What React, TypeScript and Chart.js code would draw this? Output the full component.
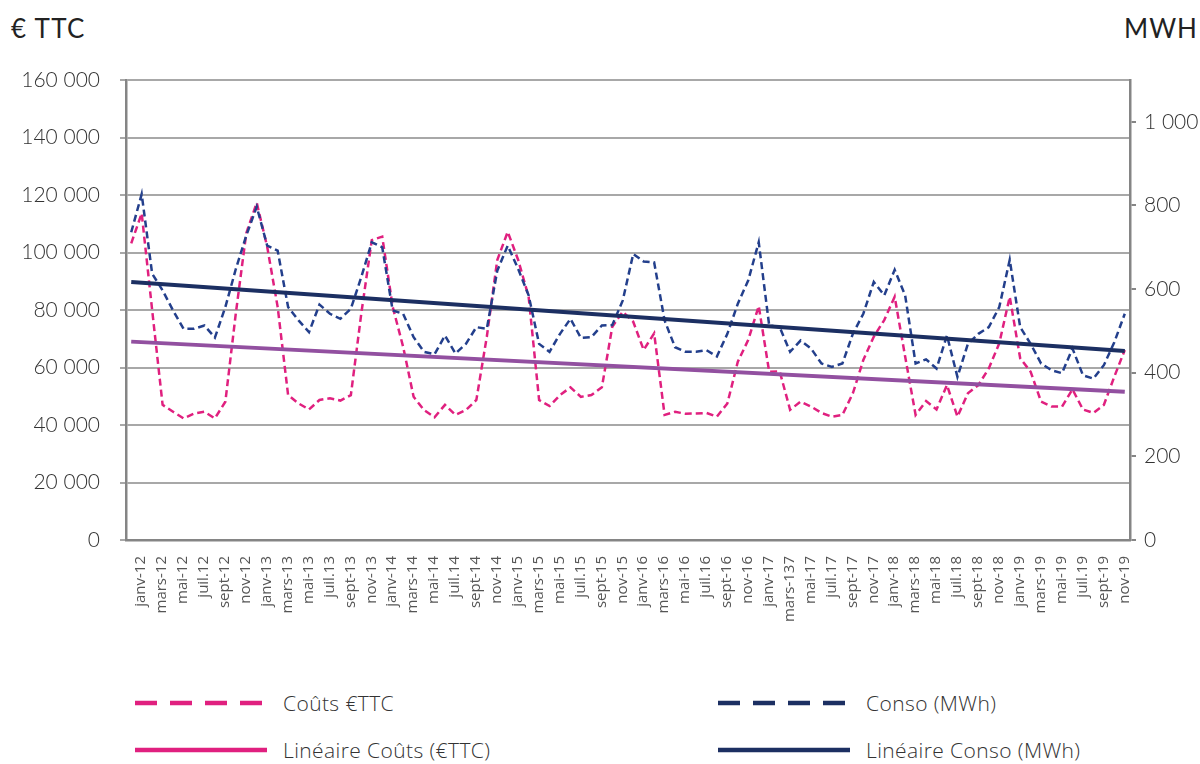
import React, { useEffect, useRef } from 'react';
import { Chart, registerables } from 'chart.js';

Chart.register(...registerables);

const categories: string[] = [
  'janv-12', 'févr-12', 'mars-12', 'avr-12', 'mai-12', 'juin-12', 'juil.12', 'août-12', 'sept-12', 'oct-12', 'nov-12', 'déc-12',
  'janv-13', 'févr-13', 'mars-13', 'avr-13', 'mai-13', 'juin-13', 'juil.13', 'août-13', 'sept-13', 'oct-13', 'nov-13', 'déc-13',
  'janv-14', 'févr-14', 'mars-14', 'avr-14', 'mai-14', 'juin-14', 'juil.14', 'août-14', 'sept-14', 'oct-14', 'nov-14', 'déc-14',
  'janv-15', 'févr-15', 'mars-15', 'avr-15', 'mai-15', 'juin-15', 'juil.15', 'août-15', 'sept-15', 'oct-15', 'nov-15', 'déc-15',
  'janv-16', 'févr-16', 'mars-16', 'avr-16', 'mai-16', 'juin-16', 'juil.16', 'août-16', 'sept-16', 'oct-16', 'nov-16', 'déc-16',
  'janv-17', 'févr-17', 'mars-137', 'avr-17', 'mai-17', 'juin-17', 'juil.17', 'août-17', 'sept-17', 'oct-17', 'nov-17', 'déc-17',
  'janv-18', 'févr-18', 'mars-18', 'avr-18', 'mai-18', 'juin-18', 'juil.18', 'août-18', 'sept-18', 'oct-18', 'nov-18', 'déc-18',
  'janv-19', 'févr-19', 'mars-19', 'avr-19', 'mai-19', 'juin-19', 'juil.19', 'août-19', 'sept-19', 'oct-19', 'nov-19', 'déc-19',
];

// Coûts €TTC (left axis)
const coutsTTC: number[] = [
  103200, 113600, 80000, 47000, 44600, 42300, 44000, 44600, 42300, 48100, 78800, 106700,
  117300, 102000, 81100, 50400, 47500, 45400, 48700, 49300, 48500, 50400, 78800, 104300,
  105500, 81100, 67200, 49800, 45200, 42700, 47000, 43500, 45200, 48700, 70700, 97400,
  107200, 97400, 84600, 48700, 46600, 50400, 53100, 49800, 50400, 53100, 74200, 79400,
  75900, 66100, 71900, 43500, 44600, 43900, 44000, 44200, 42900, 47500, 62000, 69600,
  81400, 58500, 58700, 45300, 48100, 46400, 44200, 42900, 43500, 51000, 62600, 70700,
  76500, 84600, 63800, 43500, 48300, 45400, 53900, 42900, 51000, 53900, 59700, 68400,
  84600, 63200, 58500, 48100, 46400, 46400, 52400, 45400, 44200, 47000, 56800, 66100,
];

// Conso (MWh) (right axis)
const consoMWh: number[] = [
  736, 827, 637, 597, 549, 505, 505, 513, 484, 557, 648, 728,
  797, 704, 692, 557, 525, 497, 563, 541, 529, 553, 629, 712,
  700, 549, 541, 485, 450, 444, 489, 446, 469, 509, 505, 644,
  704, 648, 585, 469, 450, 493, 529, 483, 485, 513, 514, 573,
  684, 666, 664, 525, 461, 450, 450, 454, 439, 493, 565, 621,
  712, 513, 509, 450, 477, 458, 422, 414, 422, 493, 541, 617,
  585, 646, 585, 422, 432, 410, 489, 390, 469, 493, 509, 557,
  670, 509, 469, 422, 406, 399, 458, 394, 386, 418, 473, 541,
];

// Trend lines: values read at first and last month
const lineaireCoutsEnds: number[] = [69000, 51600];
const lineaireConsoEnds: number[] = [617, 452];

const leftTicks: number[] = [0, 20000, 40000, 60000, 80000, 100000, 120000, 140000, 160000];
const rightTicks: number[] = [0, 200, 400, 600, 800, 1000];

const PINK = '#E0207F';
const BLUE = '#233F8C';
const NAVY = '#1C2F62';
const PURPLE = '#9250A0';

const fmt = (v: number) => String(v).replace(/\B(?=(\d{3})+(?!\d))/g, ' ');

const endsToSeries = (ends: number[]) =>
  categories.map((_, i) => (i === 0 ? ends[0] : i === categories.length - 1 ? ends[1] : null));

function LegendItem({ color, dashed, label, left, top }: { color: string; dashed: boolean; label: string; left: number; top: number }) {
  return (
    <div style={{ position: 'absolute', left, top, height: 24, display: 'flex', alignItems: 'center' }}>
      <svg width={132} height={8} style={{ display: 'block' }}>
        <line x1={0} y1={4} x2={132} y2={4} stroke={color} strokeWidth={4.5} strokeDasharray={dashed ? '22 13' : undefined} />
      </svg>
      <span style={{ marginLeft: 16, fontFamily: '"Open Sans", sans-serif', fontWeight: 300, fontSize: 21, letterSpacing: 0.4, color: '#333', whiteSpace: 'nowrap' }}>{label}</span>
    </div>
  );
}

export default function App() {
  const ref = useRef<HTMLCanvasElement | null>(null);

  useEffect(() => {
    if (!ref.current) return;
    const chart = new Chart(ref.current, {
      type: 'line',
      data: {
        labels: categories,
        datasets: [
          {
            label: 'Linéaire Conso (MWh)',
            data: endsToSeries(lineaireConsoEnds),
            yAxisID: 'y1',
            borderColor: NAVY,
            borderWidth: 4,
            pointRadius: 0,
            spanGaps: true,
            order: 1,
          },
          {
            label: 'Linéaire Coûts (€TTC)',
            data: endsToSeries(lineaireCoutsEnds),
            yAxisID: 'y',
            borderColor: PURPLE,
            borderWidth: 4,
            pointRadius: 0,
            spanGaps: true,
            order: 2,
          },
          {
            label: 'Conso (MWh)',
            data: consoMWh,
            yAxisID: 'y1',
            borderColor: BLUE,
            borderWidth: 2.5,
            borderDash: [7, 4],
            pointRadius: 0,
            tension: 0,
            order: 3,
          },
          {
            label: 'Coûts €TTC',
            data: coutsTTC,
            yAxisID: 'y',
            borderColor: PINK,
            borderWidth: 2.5,
            borderDash: [7, 4],
            pointRadius: 0,
            tension: 0,
            order: 4,
          },
        ],
      },
      options: {
        responsive: false,
        animation: false,
        layout: { padding: { top: 80, left: 0, right: 0, bottom: 0 } },
        plugins: { legend: { display: false }, tooltip: { enabled: false } },
        scales: {
          x: {
            type: 'category',
            offset: true,
            grid: { display: false, drawTicks: false },
            border: { display: true, color: '#858585', width: 2.5 },
            ticks: {
              autoSkip: false,
              minRotation: 90,
              maxRotation: 90,
              padding: 16,
              labelOffset: 10,
              color: '#555',
              font: { family: '"Open Sans", sans-serif', size: 15, weight: 400 },
              callback: (_v: any, idx: number) => (idx % 2 === 0 ? categories[idx] : ''),
            },
            afterFit: (s: any) => {
              s.height = 100;
            },
          },
          y: {
            position: 'left',
            min: leftTicks[0],
            max: leftTicks[leftTicks.length - 1],
            afterBuildTicks: (s: any) => {
              s.ticks = leftTicks.map((v) => ({ value: v }));
            },
            ticks: {
              padding: 20,
              color: '#333',
              font: { family: 'Lato, sans-serif', size: 21, weight: 300 },
              callback: (v: any) => fmt(Number(v)),
            },
            grid: { color: '#a8a8a8', lineWidth: 2, tickLength: 6, drawTicks: true },
            border: { color: '#858585', width: 2.5 },
            afterFit: (s: any) => {
              s.width = 126;
            },
          },
          y1: {
            position: 'right',
            min: 0,
            max: 1100,
            afterBuildTicks: (s: any) => {
              s.ticks = rightTicks.map((v) => ({ value: v }));
            },
            ticks: {
              padding: 8,
              color: '#333',
              font: { family: 'Lato, sans-serif', size: 21, weight: 300 },
              callback: (v: any) => fmt(Number(v)),
            },
            grid: { drawOnChartArea: false, color: '#858585', lineWidth: 2, tickLength: 6 },
            border: { color: '#858585', width: 2.5 },
            afterFit: (s: any) => {
              s.width = 70;
            },
          },
        },
      },
    });
    return () => chart.destroy();
  }, []);

  return (
    <div style={{ position: 'absolute', left: 0, top: 0, width: 1200, height: 764, background: '#fff', overflow: 'hidden' }}>
      <div style={{ position: 'absolute', left: 11, top: 12, fontFamily: 'Lato, sans-serif', fontSize: 26, color: '#222', letterSpacing: 1.3 }}>€ TTC</div>
      <div style={{ position: 'absolute', left: 1124, top: 12, fontFamily: 'Lato, sans-serif', fontSize: 26, color: '#222', letterSpacing: 1 }}>MWH</div>
      <canvas ref={ref} width={1200} height={640} style={{ position: 'absolute', left: 0, top: 0, width: 1200, height: 640 }} />
      <LegendItem color={PINK} dashed label="Coûts €TTC" left={135} top={691} />
      <LegendItem color={NAVY} dashed label="Conso (MWh)" left={718} top={691} />
      <LegendItem color={PINK} dashed={false} label="Linéaire Coûts (€TTC)" left={135} top={738} />
      <LegendItem color={NAVY} dashed={false} label="Linéaire Conso (MWh)" left={718} top={738} />
    </div>
  );
}
